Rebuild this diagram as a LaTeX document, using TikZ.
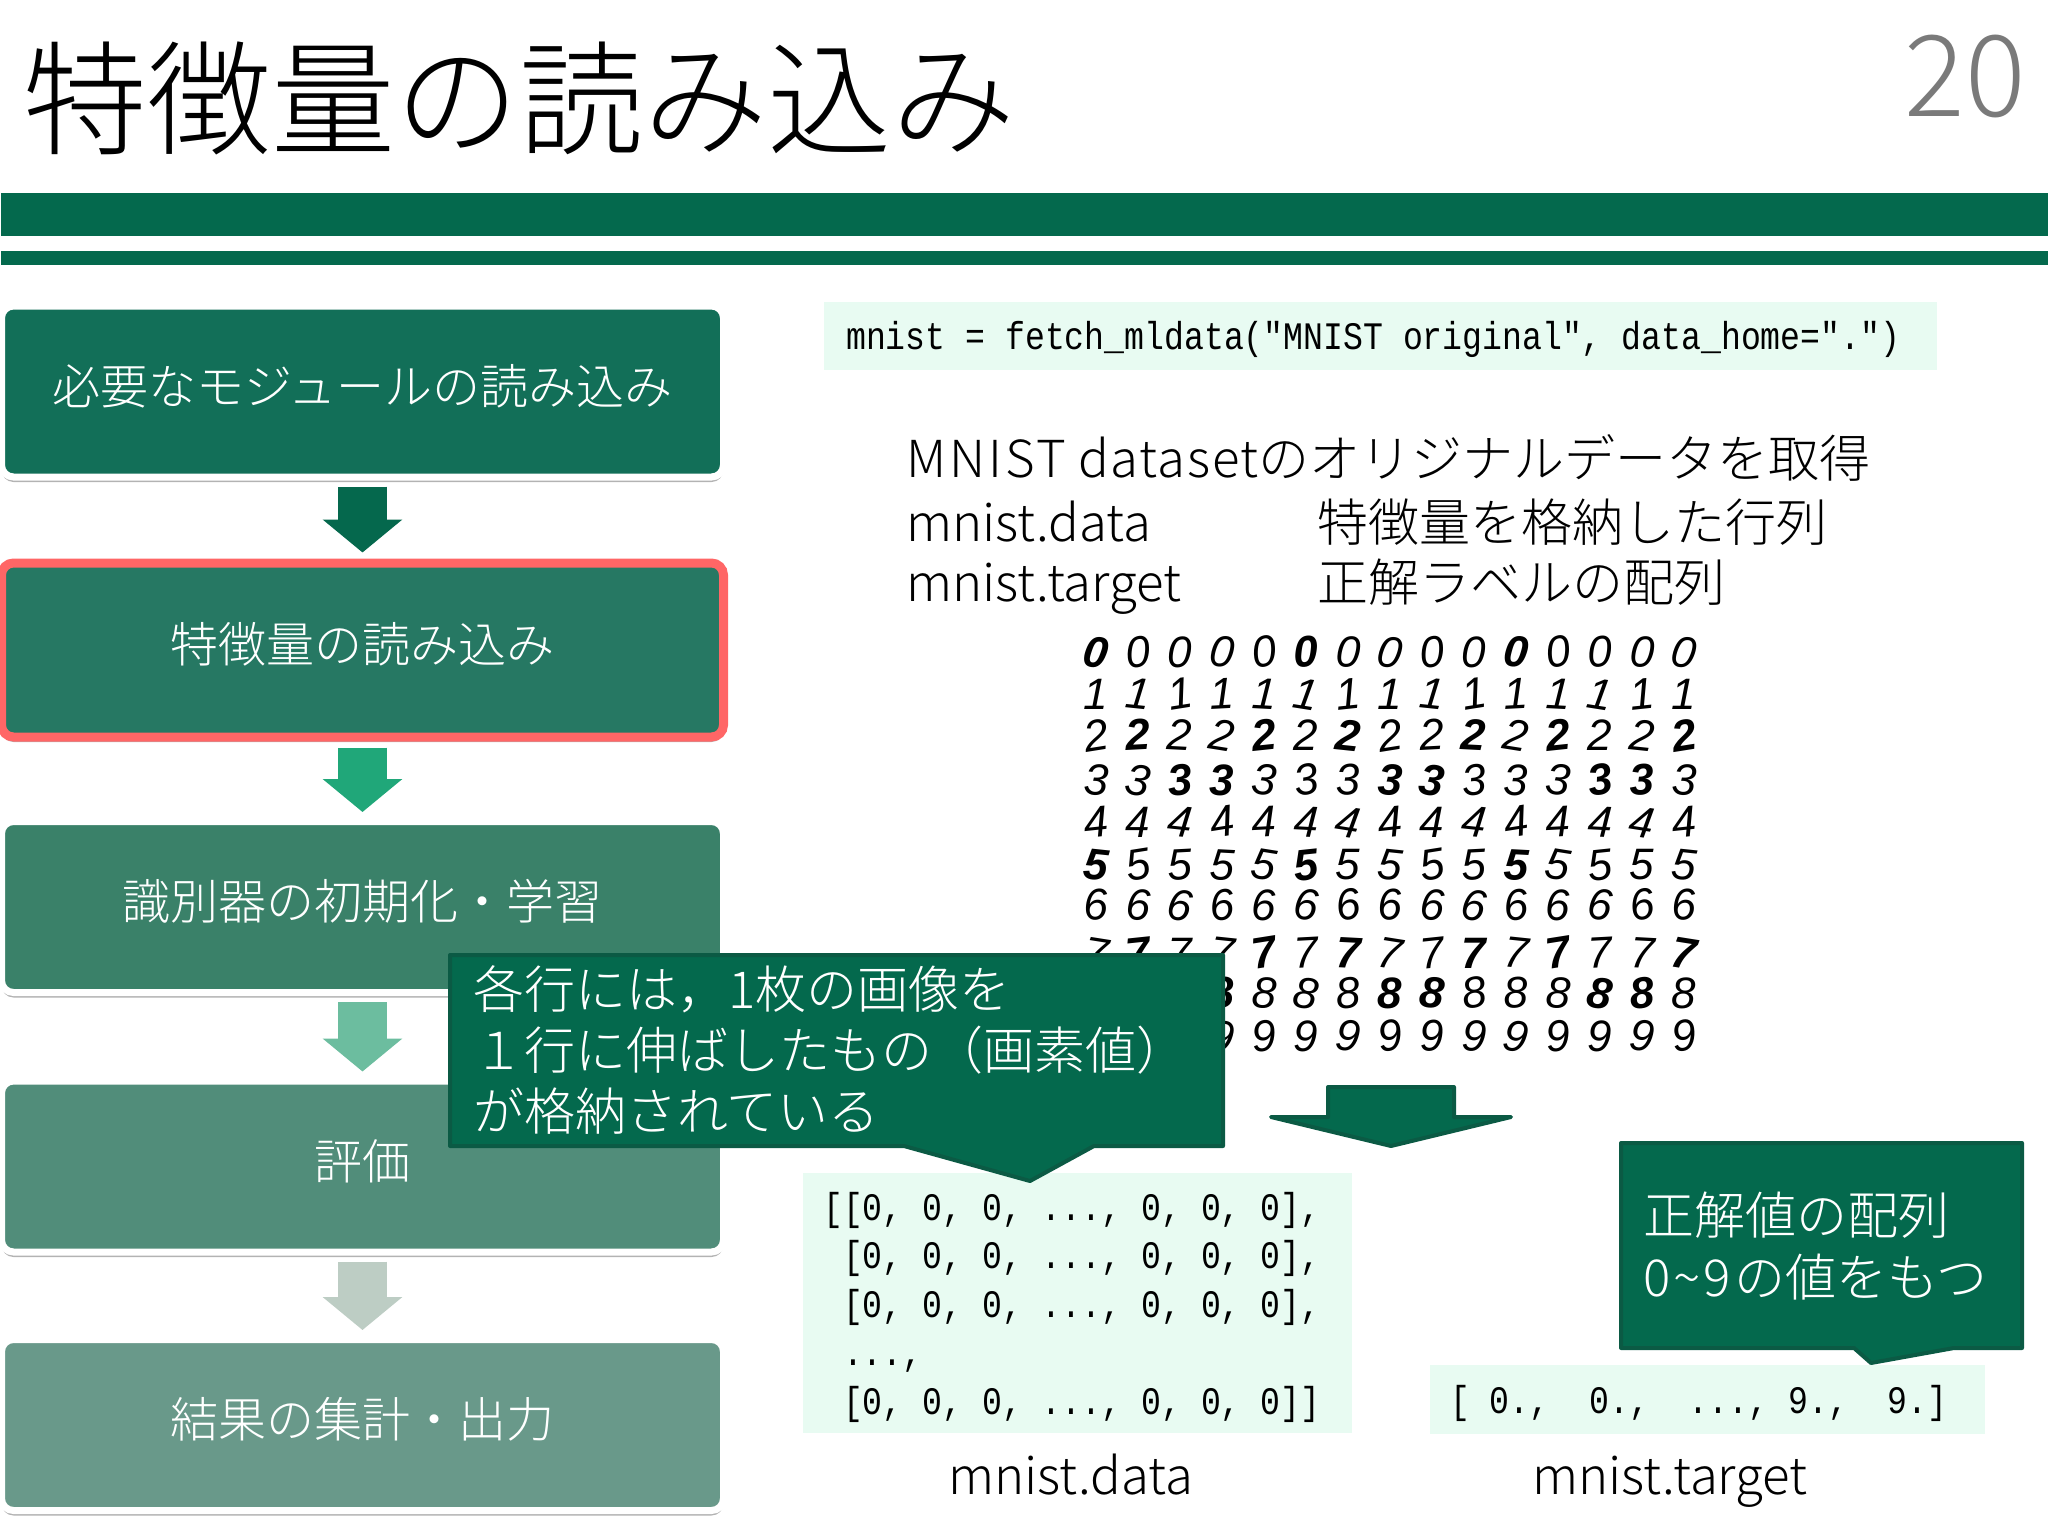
\documentclass[tikz,border=0pt]{standalone}
\usepackage{fontspec}
\setmainfont{Noto Sans CJK JP}[UprightFont=* Light]
\setsansfont{Liberation Sans}
\setmonofont{Liberation Mono}[FakeStretch=0.852]
\usetikzlibrary{arrows.meta,shadows}
\definecolor{barGreen}{HTML}{04694D}
\definecolor{edgeGreen}{HTML}{0B5A44}
\definecolor{codeBack}{HTML}{E8FBF2}
\definecolor{hiRed}{HTML}{FF6666}
\newcommand{\fsz}[2]{\fontsize{#1}{#2}\selectfont}
\tikzset{
  stepbox/.style={rectangle,rounded corners=12pt,draw=white,line width=7pt,text=white,
    minimum width=722pt,minimum height=171pt,inner sep=0pt,font=\fsz{48}{48},
    text height=40pt,text depth=15pt,
    drop shadow={shadow xshift=0pt,shadow yshift=-5pt,opacity=0.6,fill=gray}},
  flowarrow/.style={line width=49pt,-{Triangle[length=33pt,width=78pt]},
    shorten <=6pt,shorten >=6pt},
  codeback/.style={fill=codeBack,draw=none},
  codetext/.style={font=\ttfamily\fsz{38.9}{48.5},anchor=west,align=left,inner sep=0pt},
  bodytext/.style={font=\fsz{51}{51},anchor=west,inner sep=0pt,text height=46pt,text depth=8pt},
  notebox/.style={fill=barGreen,draw=edgeGreen,line width=4pt,line join=round},
  notetext/.style={text=white,font=\fsz{51}{61},anchor=west,align=left,inner sep=0pt},
}
\newcommand{\digitgrid}{%
  % ten rows of fifteen digits, the ones hidden behind the note are left out
  \foreach \y [count=\r from 0] in {652,694,735,780,822,865,905,953,993,1036}{%
    \foreach \c in {0,...,14}{%
      \pgfmathtruncatemacro{\wt}{mod(\c*\c+2*\r,5)}
      \pgfmathtruncatemacro{\hid}{(\r>7)&&(\c<3)}
      \pgfmathsetmacro{\tilt}{3*mod(\c*5+\r*3,7)-9}
      \ifnum\hid=0
      \node[inner sep=0pt,rotate=\tilt,font=\sffamily\itshape\fsz{44}{44}] (d\r-\c)
        at ({1096+42*\c},\y) {\ifnum\wt=0 \bfseries\fi\r};
      \fi
    }
  }
}
\begin{document}
\begin{tikzpicture}[x=1pt,y=-1pt]
  \useasboundingbox (0,0) rectangle (2048,1536);
  \node[font=\fsz{124}{124},anchor=west,inner sep=0pt] (title) at (23,98) {特徴量の読み込み};
  \node[font=\fsz{113}{113},text=black!52,anchor=east,inner sep=0pt] (pageno) at (2026,76) {20};
  \fill[barGreen] (1,193) rectangle (2048,236);
  \fill[barGreen] (1,251) rectangle (2048,265);

  \node[stepbox,fill={rgb,255:red,18;green,111;blue,88}] (load) at (362.5,391.5) {必要なモジュールの読み込み};
  \node[stepbox,draw=hiRed,line width=9pt,minimum height=174pt,fill={rgb,255:red,38;green,120;blue,99}] (feat) at (362.5,650) {特徴量の読み込み};
  \node[stepbox,fill={rgb,255:red,58;green,129;blue,105}] (train) at (362.5,907) {識別器の初期化・学習};
  \node[stepbox,fill={rgb,255:red,81;green,141;blue,122}] (eval) at (362.5,1166.5) {評価};
  \node[stepbox,fill={rgb,255:red,105;green,153;blue,138}] (out) at (362.5,1425) {結果の集計・出力};
  \draw[flowarrow,color={rgb,255:red,5;green,104;blue,77}] (load.south) -- (feat.north);
  \draw[flowarrow,color={rgb,255:red,32;green,167;blue,121}] (feat.south) -- (train.north);
  \draw[flowarrow,color={rgb,255:red,108;green,189;blue,159}] (train.south) -- (eval.north);
  \draw[flowarrow,color={rgb,255:red,189;green,205;blue,196}] (eval.south) -- (out.north);

  \fill[codeback] (824,302) rectangle (1937,370);
  \node[codetext] (fetch) at (846,339) {mnist = fetch\_mldata("MNIST original", data\_home=".")};

  \node[bodytext] (desc) at (906,458) {{\addfontfeature{LetterSpace=6}MNIST} {\addfontfeature{LetterSpace=3.3}dataset}のオリジナルデータを取得};
  \node[bodytext] (dataname) at (906,522) {mnist.data};
  \node[bodytext] (datadesc) at (1317,522) {特徴量を格納した行列};
  \node[bodytext] (targetname) at (906,582) {mnist.target};
  \node[bodytext] (targetdesc) at (1317,582) {正解ラベルの配列};

  \digitgrid

  \draw[notebox] (1328,1087) -- (1454,1087) -- (1454,1117) -- (1511,1117) -- (1391,1146)
    -- (1271,1117) -- (1328,1117) -- cycle;

  \fill[codeback] (803,1173) rectangle (1352,1433);
  \node[codetext] (datarows) at (823,1307) {[[0, 0, 0, ..., 0, 0, 0],\\
    \ [0, 0, 0, ..., 0, 0, 0],\\
    \ [0, 0, 0, ..., 0, 0, 0],\\
    \ ...,\\
    \ [0, 0, 0, ..., 0, 0, 0]]};
  \fill[codeback] (1430,1365) rectangle (1985,1434);
  \node[codetext] (targetrow) at (1450,1403) {[ 0.,\ \ 0.,\ \ ...,\ 9.,\ \ 9.]};
  \node[bodytext,anchor=center] (datacap) at (1071,1475) {mnist.data};
  \node[bodytext,anchor=center] (targetcap) at (1670,1475) {mnist.target};

  \draw[notebox] (450,955) -- (1223,955) -- (1223,1146) -- (1094,1146) -- (1030,1181)
    -- (904,1146) -- (450,1146) -- cycle;
  \node[notetext] (rownote) at (473,1050) {各行には，1枚の画像を\\
    １行に伸ばしたもの（画素値）\\
    が格納されている};

  \draw[notebox] (1621,1143) -- (2022,1143) -- (2022,1348) -- (1954,1348) -- (1871,1363)
    -- (1854,1348) -- (1621,1348) -- cycle;
  \node[notetext,font=\fsz{51}{62}] (targetnote) at (1643,1246) {正解値の配列\\0\hspace{3pt}\textasciitilde\hspace{3pt}9\hspace{3pt}の値をもつ};
\end{tikzpicture}
\end{document}
